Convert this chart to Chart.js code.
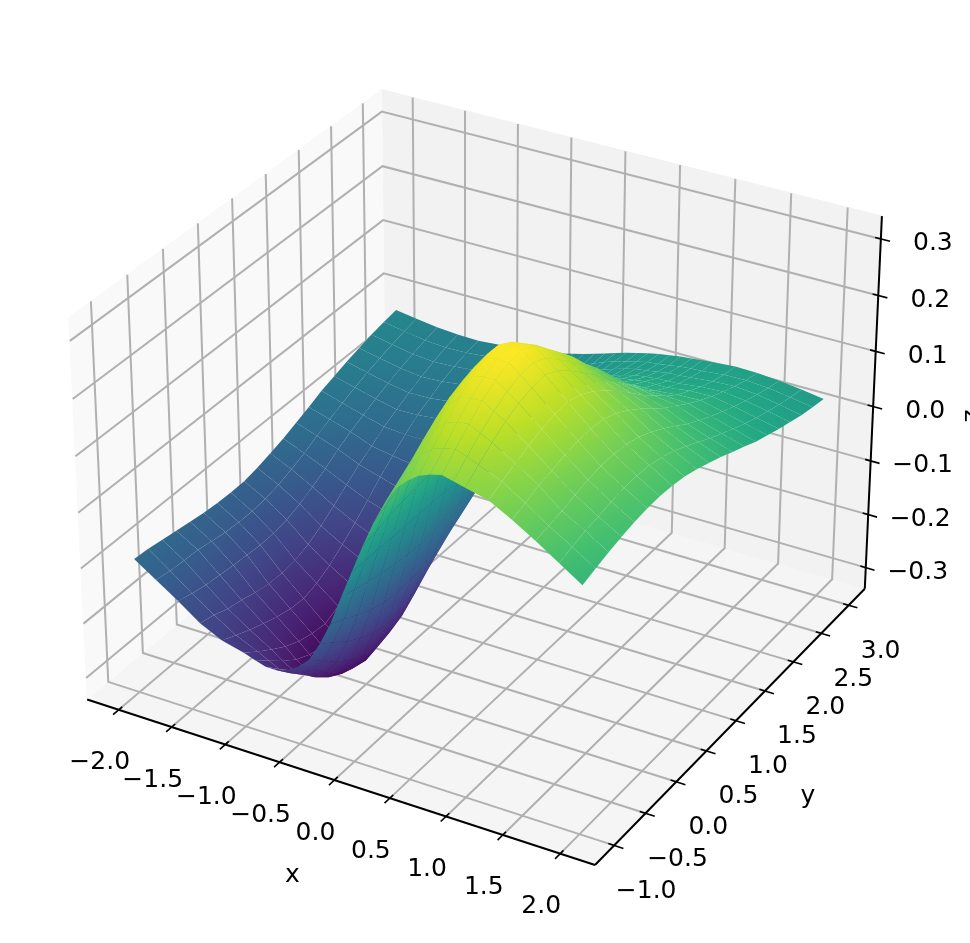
<!DOCTYPE html>
<html>
<head>
<meta charset="utf-8">
<style>
  html, body { margin: 0; background: #fff; }
  canvas { display: block; }
</style>
<script src="https://cdn.jsdelivr.net/npm/chart.js@4/dist/chart.umd.min.js"></script>
</head>
<body>
<canvas id="chart" width="970" height="943"></canvas>
<script>
const xTicks = [-2, -1.5, -1, -0.5, 0, 0.5, 1, 1.5, 2];
const yTicks = [-1, -0.5, 0, 0.5, 1, 1.5, 2, 2.5, 3];
const zTicks = [-0.3, -0.2, -0.1, 0, 0.1, 0.2, 0.3];

const xLimits = [-2.3, 2.3];
const yLimits = [-1.3, 3.3];
const zLimits = [-0.34, 0.34];

const xGrid = [-2, -1.8, -1.6, -1.4, -1.2, -1, -0.9, -0.8, -0.7, -0.6, -0.5, -0.4, -0.3, -0.2, -0.1, 0, 0.1, 0.2, 0.3, 0.4, 0.5, 0.6, 0.7, 0.8, 0.9, 1, 1.2, 1.4, 1.6, 1.8, 2];
const yGrid = [-1, -0.8, -0.6, -0.4, -0.2, 0, 0.2, 0.4, 0.6, 0.8, 1, 1.2, 1.4, 1.6, 1.8, 2, 2.2, 2.4, 2.6, 2.8, 3];

// one row per y, one column per x
const zRows = [
  [-.096,-.122,-.148,-.176,-.195,-.205,-.212,-.218,-.218,-.212,-.199,-.180,-.146,-.104,-.051,0,.051,.098,.138,.169,.188,.202,.210,.215,.210,.205,.195,.174,.150,.124,.098],
  [-.098,-.126,-.155,-.182,-.207,-.224,-.235,-.244,-.245,-.240,-.226,-.204,-.164,-.116,-.057,0,.057,.110,.155,.191,.212,.228,.235,.239,.232,.224,.207,.182,.155,.131,.106],
  [-.102,-.128,-.160,-.192,-.218,-.242,-.257,-.268,-.270,-.268,-.253,-.227,-.184,-.130,-.064,0,.064,.123,.173,.212,.236,.253,.260,.262,.252,.242,.218,.192,.160,.138,.113],
  [-.106,-.129,-.163,-.197,-.228,-.258,-.276,-.290,-.294,-.290,-.274,-.246,-.199,-.141,-.070,0,.070,.134,.188,.231,.257,.276,.281,.282,.270,.258,.228,.197,.167,.142,.119],
  [-.110,-.134,-.166,-.204,-.237,-.270,-.288,-.304,-.308,-.305,-.289,-.260,-.211,-.149,-.074,0,.074,.142,.200,.247,.274,.294,.298,.298,.284,.270,.237,.204,.173,.147,.124],
  [-.114,-.138,-.168,-.209,-.243,-.277,-.295,-.311,-.314,-.313,-.296,-.267,-.217,-.153,-.077,0,.077,.148,.209,.257,.285,.306,.310,.309,.293,.277,.243,.209,.177,.151,.127],
  [-.116,-.140,-.170,-.210,-.245,-.280,-.296,-.312,-.313,-.310,-.289,-.260,-.211,-.150,-.078,0,.078,.150,.211,.260,.289,.310,.313,.312,.296,.280,.245,.210,.178,.152,.128],
  [-.117,-.140,-.169,-.207,-.238,-.268,-.284,-.298,-.299,-.296,-.276,-.249,-.202,-.147,-.076,0,.076,.147,.202,.249,.276,.296,.299,.298,.284,.268,.238,.207,.175,.150,.126],
  [-.116,-.137,-.164,-.198,-.225,-.249,-.263,-.276,-.277,-.274,-.255,-.229,-.187,-.139,-.072,0,.072,.139,.187,.229,.255,.274,.277,.276,.263,.249,.225,.198,.168,.144,.122],
  [-.111,-.131,-.155,-.184,-.207,-.227,-.239,-.251,-.251,-.247,-.230,-.207,-.167,-.126,-.066,0,.066,.126,.167,.207,.230,.247,.251,.251,.239,.227,.207,.184,.157,.136,.115],
  [-.104,-.122,-.143,-.167,-.187,-.204,-.215,-.225,-.225,-.221,-.205,-.183,-.149,-.112,-.058,0,.058,.112,.149,.183,.205,.221,.225,.225,.215,.204,.187,.167,.144,.124,.106],
  [-.096,-.112,-.129,-.148,-.165,-.178,-.186,-.194,-.194,-.190,-.176,-.157,-.127,-.096,-.050,0,.050,.096,.127,.157,.176,.190,.194,.194,.186,.178,.165,.148,.129,.112,.097],
  [-.086,-.099,-.113,-.130,-.142,-.153,-.160,-.167,-.166,-.162,-.150,-.133,-.108,-.081,-.042,0,.042,.081,.108,.133,.150,.162,.166,.167,.160,.153,.142,.130,.113,.099,.086],
  [-.076,-.088,-.100,-.115,-.122,-.128,-.133,-.137,-.135,-.131,-.121,-.107,-.086,-.065,-.034,0,.034,.065,.086,.107,.121,.131,.135,.137,.133,.128,.122,.115,.100,.088,.076],
  [-.065,-.077,-.088,-.099,-.102,-.102,-.105,-.107,-.104,-.101,-.093,-.082,-.066,-.052,-.027,0,.027,.052,.066,.082,.093,.101,.104,.107,.105,.102,.102,.099,.088,.077,.065],
  [-.057,-.067,-.077,-.086,-.085,-.081,-.081,-.081,-.080,-.076,-.070,-.060,-.049,-.041,-.021,0,.021,.041,.049,.060,.070,.076,.080,.081,.081,.081,.085,.086,.077,.067,.057],
  [-.049,-.058,-.067,-.074,-.073,-.068,-.068,-.068,-.065,-.062,-.056,-.049,-.039,-.032,-.017,0,.017,.032,.039,.049,.056,.062,.065,.068,.068,.068,.073,.074,.067,.058,.049],
  [-.042,-.050,-.058,-.063,-.061,-.056,-.055,-.054,-.052,-.049,-.044,-.038,-.031,-.025,-.013,0,.013,.025,.031,.038,.044,.049,.052,.054,.055,.056,.061,.063,.058,.050,.042],
  [-.035,-.043,-.050,-.054,-.052,-.048,-.046,-.045,-.042,-.039,-.036,-.031,-.025,-.019,-.010,0,.010,.019,.025,.031,.036,.039,.042,.045,.046,.048,.052,.054,.050,.043,.035],
  [-.030,-.037,-.043,-.046,-.045,-.041,-.040,-.038,-.035,-.032,-.030,-.025,-.020,-.015,-.008,0,.008,.015,.020,.025,.030,.032,.035,.038,.040,.041,.045,.046,.043,.037,.030],
  [-.026,-.032,-.037,-.040,-.041,-.038,-.036,-.034,-.032,-.029,-.026,-.022,-.017,-.012,-.006,0,.006,.012,.017,.022,.026,.029,.032,.034,.036,.038,.041,.040,.037,.032,.026]
];

const viridis = ["#440154", "#482475", "#414487", "#355f8d", "#2a788e", "#21918c", "#22a884", "#44bf70", "#7ad151", "#bddf26", "#fde725"];

// same camera as a default mplot3d axes: elev 30, azim -60, dist 10
const boxSize = [1.19048, 1.19048, 0.89286];
const camU = [0.86603, 0.5, 0];
const camV = [-0.25, 0.43301, 0.86603];
const camW = [0.43301, -0.75, 0.5];
const camDist = 10;

function dot(a, b) { return a[0] * b[0] + a[1] * b[1] + a[2] * b[2]; }

function toBox(x, y, z) {
  return [
    ((x - xLimits[0]) / (xLimits[1] - xLimits[0]) - 0.5) * boxSize[0],
    ((y - yLimits[0]) / (yLimits[1] - yLimits[0]) - 0.5) * boxSize[1],
    ((z - zLimits[0]) / (zLimits[1] - zLimits[0]) - 0.5) * boxSize[2]
  ];
}

function project(x, y, z) {
  const q = toBox(x, y, z);
  const d = camDist - dot(camW, q);
  return { x: dot(camU, q) / d, y: dot(camV, q) / d };
}

function depth(x, y, z) {
  return camDist - dot(camW, toBox(x, y, z));
}

const zMin = Math.min(...zRows.flat());
const zMax = Math.max(...zRows.flat());

function colorFor(z) {
  const t = Math.min(1, Math.max(0, (z - zMin) / (zMax - zMin))) * (viridis.length - 1);
  const i = Math.min(viridis.length - 2, Math.floor(t));
  const f = t - i;
  const a = viridis[i], b = viridis[i + 1];
  const mix = k => Math.round(parseInt(a.substr(k, 2), 16) * (1 - f) + parseInt(b.substr(k, 2), 16) * f);
  return `rgb(${mix(1)},${mix(3)},${mix(5)})`;
}

// colour of one cell: a linear gradient following z across its four corners
function cellFill(chart, corners) {
  const sx = chart.scales.x, sy = chart.scales.y;
  const zs = corners.map(c => c.z);
  const lo = Math.min(...zs), hi = Math.max(...zs);
  const mean = (zs[0] + zs[1] + zs[2] + zs[3]) / 4;
  const p = corners.map(c => {
    const v = project(c.x, c.y, c.z);
    return { x: sx.getPixelForValue(v.x), y: sy.getPixelForValue(v.y), z: c.z };
  });
  const e1 = { x: (p[1].x + p[2].x - p[0].x - p[3].x) / 2, y: (p[1].y + p[2].y - p[0].y - p[3].y) / 2, z: (p[1].z + p[2].z - p[0].z - p[3].z) / 2 };
  const e2 = { x: (p[3].x + p[2].x - p[0].x - p[1].x) / 2, y: (p[3].y + p[2].y - p[0].y - p[1].y) / 2, z: (p[3].z + p[2].z - p[0].z - p[1].z) / 2 };
  const det = e1.x * e2.y - e1.y * e2.x;
  if (!(Math.abs(det) > 4) || hi - lo < 1e-4) return colorFor(mean);
  const gx = (e1.z * e2.y - e2.z * e1.y) / det;
  const gy = (e2.z * e1.x - e1.z * e2.x) / det;
  const g2 = gx * gx + gy * gy;
  if (!(g2 > 0)) return colorFor(mean);
  const cx = (p[0].x + p[1].x + p[2].x + p[3].x) / 4;
  const cy = (p[0].y + p[1].y + p[2].y + p[3].y) / 4;
  const a = (lo - mean) / g2, b = (hi - mean) / g2;
  const grad = chart.ctx.createLinearGradient(cx + gx * a, cy + gy * a, cx + gx * b, cy + gy * b);
  grad.addColorStop(0, colorFor(lo));
  grad.addColorStop(0.5, colorFor((lo + hi) / 2));
  grad.addColorStop(1, colorFor(hi));
  return grad;
}

// the first dataset in the list is painted last
const surface = [];
for (let j = 0; j < yGrid.length - 1; j++) {
  for (let i = 0; i < xGrid.length - 1; i++) {
    const corners = [
      { x: xGrid[i], y: yGrid[j], z: zRows[j][i] },
      { x: xGrid[i + 1], y: yGrid[j], z: zRows[j][i + 1] },
      { x: xGrid[i + 1], y: yGrid[j + 1], z: zRows[j + 1][i + 1] },
      { x: xGrid[i], y: yGrid[j + 1], z: zRows[j + 1][i] }
    ];
    const d = corners.reduce((s, c) => s + depth(c.x, c.y, c.z), 0) / 4;
    surface.push({
      d,
      data: corners.concat(corners[0]).map(c => project(c.x, c.y, c.z)),
      fill: "shape",
      borderWidth: 0,
      backgroundColor: ctx => cellFill(ctx.chart, corners)
    });
  }
}
surface.sort((a, b) => a.d - b.d);

function segment(points, color, width) {
  return { data: points.map(p => project(p[0], p[1], p[2])), borderColor: color, borderWidth: width, fill: false };
}

function pane(points, color) {
  return { data: points.concat([points[0]]).map(p => project(p[0], p[1], p[2])), backgroundColor: color, borderColor: color, borderWidth: 1, fill: "shape" };
}

const [x0, x1] = xLimits, [y0, y1] = yLimits, [z0, z1] = zLimits;
const tickIn = 0.05, tickOut = 0.08;

const axes = [];
xTicks.forEach(t => axes.push(segment([[t, y0 + tickIn, z0], [t, y0 - tickOut, z0]], "#000", 1.6)));
yTicks.forEach(t => axes.push(segment([[x1 - tickIn, t, z0], [x1 + tickOut, t, z0]], "#000", 1.6)));
zTicks.forEach(t => axes.push(segment([[x1 - tickIn, y1, t], [x1 + tickOut, y1, t]], "#000", 1.6)));
axes.push(segment([[x0, y0, z0], [x1, y0, z0]], "#000", 2));
axes.push(segment([[x1, y0, z0], [x1, y1, z0]], "#000", 2));
axes.push(segment([[x1, y1, z0], [x1, y1, z1]], "#000", 2));

const gridLines = [];
xTicks.forEach(t => gridLines.push(segment([[t, y0, z0], [t, y1, z0], [t, y1, z1]], "#b0b0b0", 2)));
yTicks.forEach(t => gridLines.push(segment([[x1, t, z0], [x0, t, z0], [x0, t, z1]], "#b0b0b0", 2)));
zTicks.forEach(t => gridLines.push(segment([[x1, y1, t], [x0, y1, t], [x0, y0, t]], "#b0b0b0", 2)));

const panes = [
  pane([[x0, y0, z0], [x0, y1, z0], [x0, y1, z1], [x0, y0, z1]], "#f9f9f9"),
  pane([[x0, y1, z0], [x1, y1, z0], [x1, y1, z1], [x0, y1, z1]], "#f2f2f2"),
  pane([[x0, y0, z0], [x1, y0, z0], [x1, y1, z0], [x0, y1, z0]], "#f5f5f5")
];

// tick numbers and axis names, placed from the scales
const tickText = v => (v < 0 ? "\u2212" : "") + Math.abs(v).toFixed(1);
const axisLabels = {
  id: "axisLabels",
  afterDraw(chart) {
    const { ctx, scales } = chart;
    const put = (text, v, dx, dy) => ctx.fillText(text, scales.x.getPixelForValue(v.x) + dx, scales.y.getPixelForValue(v.y) + dy);
    ctx.save();
    ctx.fillStyle = "#000";
    ctx.font = "25px 'DejaVu Sans'";
    ctx.textAlign = "center";
    ctx.textBaseline = "middle";
    xTicks.forEach(t => put(tickText(t), project(t, y0, z0), -19, 53));
    yTicks.forEach(t => put(tickText(t), project(x1, t, z0), 32, 46));
    zTicks.forEach(t => put(tickText(t), project(x1, y1, t), 52, 5));
    put("x", project(0, y0, z0), -42, 95);
    put("y", project(x1, 1, z0), 72, 76);
    ctx.translate(972, 416);
    ctx.rotate(-Math.PI / 2);
    ctx.fillText("z", 0, 0);
    ctx.restore();
  }
};

new Chart(document.getElementById("chart"), {
  type: "scatter",
  data: { datasets: [...surface, ...axes, ...gridLines, ...panes].map(d => ({ ...d, showLine: true, pointRadius: 0, clip: false })) },
  options: {
    responsive: false,
    animation: false,
    layout: { padding: 0 },
    plugins: { legend: { display: false }, tooltip: { enabled: false } },
    events: [],
    scales: {
      x: { type: "linear", display: false, min: -0.09887, max: 0.09962 },
      y: { type: "linear", display: false, min: -0.09932, max: 0.09404 }
    }
  },
  plugins: [axisLabels]
});
</script>
</body>
</html>
